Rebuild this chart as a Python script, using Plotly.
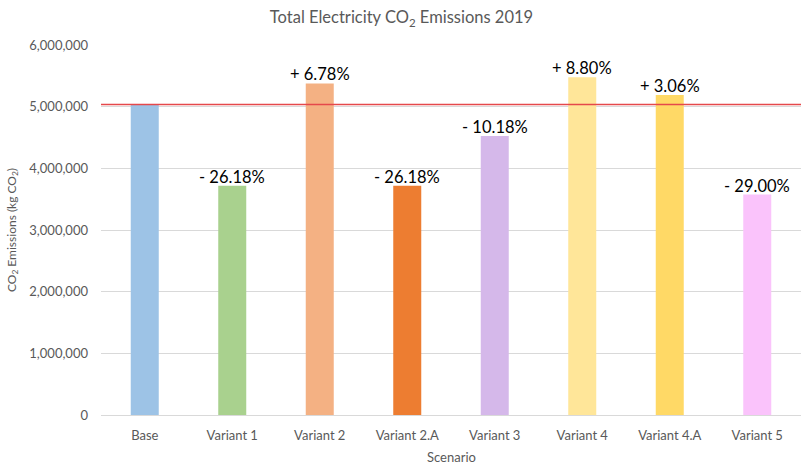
import plotly.graph_objects as go

# Scenario results: total electricity CO2 emissions (kg CO2), 2019
scenarios = ["Base", "Variant 1", "Variant 2", "Variant 2.A", "Variant 3",
             "Variant 4", "Variant 4.A", "Variant 5"]
base_emissions = 5_035_000
pct_change = [None, -26.18, 6.78, -26.18, -10.18, 8.80, 3.06, -29.00]
bar_colors = ["#9DC3E6", "#A9D18E", "#F4B183", "#ED7D31", "#D5B8EA",
              "#FFE699", "#FFD966", "#FAC3FB"]
y_ticks = [0, 1_000_000, 2_000_000, 3_000_000, 4_000_000, 5_000_000, 6_000_000]

emissions = [base_emissions if p is None else base_emissions * (1 + p / 100)
             for p in pct_change]

FONT = "Lato, Calibri, Carlito, sans-serif"

fig = go.Figure(go.Bar(
    x=scenarios, y=emissions, marker=dict(color=bar_colors, line_width=0),
    width=0.32, hoverinfo="x+y",
))

# Percentage change labels above each variant
for s, v, p in zip(scenarios, emissions, pct_change):
    if p is None:
        continue
    sign = "+" if p > 0 else "-"
    fig.add_annotation(x=s, y=v, text=f"{sign} {abs(p):.2f}%", showarrow=False,
                       yanchor="bottom", yshift=-3,
                       font=dict(family=FONT, size=16.5, color="#000000"))

# Reference line at the base scenario level
fig.add_shape(type="line", xref="paper", yref="y", x0=0, x1=1,
              y0=base_emissions, y1=base_emissions,
              line=dict(color="#E5484B", width=1.3), layer="above")

# Horizontal axis title, placed just under the category labels
fig.add_annotation(text="Scenario", xref="paper", yref="paper", x=0.5, y=0,
                   xanchor="center", yanchor="middle", yshift=-42,
                   showarrow=False,
                   font=dict(family=FONT, size=13, color="#595959"))

fig.update_layout(
    width=803, height=464,
    margin=dict(l=101, r=2, t=45, b=49),
    paper_bgcolor="white", plot_bgcolor="white",
    showlegend=False,
    font=dict(family=FONT, color="#595959"),
    title=dict(text="Total Electricity CO<sub>2</sub> Emissions 2019",
               x=0.5, xanchor="center", y=0.962, yanchor="middle",
               font=dict(family=FONT, size=16.5, color="#595959")),
)
fig.update_xaxes(
    tickfont=dict(family=FONT, size=13, color="#595959"),
    showline=False, showgrid=False, ticks="", ticklabelstandoff=11,
    automargin=False,
)
fig.update_yaxes(
    range=[0, 6_000_000], tickvals=y_ticks,
    tickformat=",d",
    tickfont=dict(family=FONT, size=13, color="#595959"),
    title=dict(text="CO<sub>2</sub> Emissions (kg CO<sub>2</sub>)",
               font=dict(family=FONT, size=12, color="#595959"), standoff=10),
    showgrid=True, gridcolor="#D9D9D9", gridwidth=1,
    zeroline=True, zerolinecolor="#D9D9D9", zerolinewidth=1,
    ticks="", ticklabelstandoff=12,
)

fig.write_html("out.html")
